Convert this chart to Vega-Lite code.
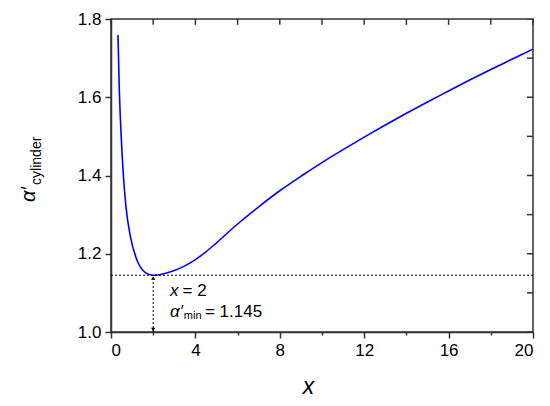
{
  "$schema": "https://vega.github.io/schema/vega-lite/v6.json",
  "width": 422,
  "height": 313,
  "autosize": "none",
  "padding": {"left": 111, "top": 19, "right": 17, "bottom": 74},
  "background": "white",
  "config": {
    "view": {"stroke": "#333333", "strokeWidth": 1.5},
    "font": "Liberation Sans",
    "axis": {
      "domainColor": "#333333",
      "domainWidth": 1.5,
      "tickColor": "#333333",
      "tickWidth": 1.5,
      "labelFont": "Liberation Sans",
      "labelFontSize": 17,
      "labelColor": "#000000",
      "labelPadding": 4,
      "grid": false
    }
  },
  "datasets": {
    "curve": [
      {"x": 0.33, "y": 1.759},
      {"x": 0.39, "y": 1.627},
      {"x": 0.47, "y": 1.516},
      {"x": 0.57, "y": 1.414},
      {"x": 0.71, "y": 1.320},
      {"x": 0.92, "y": 1.244},
      {"x": 1.23, "y": 1.184},
      {"x": 1.63, "y": 1.152},
      {"x": 2.0, "y": 1.145},
      {"x": 2.5, "y": 1.149},
      {"x": 3.0, "y": 1.157},
      {"x": 3.5, "y": 1.169},
      {"x": 4.0, "y": 1.185},
      {"x": 4.5, "y": 1.205},
      {"x": 5.0, "y": 1.228},
      {"x": 6.0, "y": 1.276},
      {"x": 7.0, "y": 1.320},
      {"x": 8.0, "y": 1.361},
      {"x": 9.0, "y": 1.398},
      {"x": 10.0, "y": 1.433},
      {"x": 11.0, "y": 1.466},
      {"x": 12.0, "y": 1.498},
      {"x": 13.0, "y": 1.529},
      {"x": 14.0, "y": 1.559},
      {"x": 15.0, "y": 1.588},
      {"x": 16.0, "y": 1.616},
      {"x": 17.0, "y": 1.644},
      {"x": 18.0, "y": 1.671},
      {"x": 19.0, "y": 1.697},
      {"x": 20.0, "y": 1.723}
    ],
    "topTicks": [
      {"v": 0}, {"v": 2}, {"v": 4}, {"v": 6}, {"v": 8}, {"v": 10},
      {"v": 12}, {"v": 14}, {"v": 16}, {"v": 18}, {"v": 20}
    ],
    "rightTicks": [
      {"v": 1.0}, {"v": 1.1}, {"v": 1.2}, {"v": 1.3}, {"v": 1.4},
      {"v": 1.5}, {"v": 1.6}, {"v": 1.7}, {"v": 1.8}
    ],
    "hline": [{"y": 1.145, "x0": 0, "x1": 20}],
    "vline": [{"x": 2, "y0": 1.0, "y1": 1.145}],
    "arrowUp": [{"x": 2, "y": 1.138}],
    "arrowDown": [{"x": 2, "y": 1.0064}],
    "italicAnno": [
      {"x": 2.8, "y": 1.092, "t": "x"},
      {"x": 2.8, "y": 1.038, "t": "α′"}
    ],
    "plainAnno": [
      {"x": 3.39, "y": 1.092, "t": "= 2"},
      {"x": 4.45, "y": 1.038, "t": "= 1.145"}
    ],
    "subAnno": [{"x": 3.45, "y": 1.032, "t": "min"}],
    "yTitleMain": [{"x": -3.6, "y": 1.332, "t": "α′"}],
    "yTitleSub": [{"x": -3.3, "y": 1.376, "t": "cylinder"}]
  },
  "layer": [
    {
      "data": {"name": "curve"},
      "mark": {"type": "line", "color": "#0000ff", "strokeWidth": 1.6, "interpolate": "monotone"},
      "encoding": {
        "x": {
          "field": "x", "type": "quantitative",
          "scale": {"domain": [0, 20], "nice": false, "zero": false},
          "axis": {
            "orient": "bottom",
            "values": [0, 2, 4, 6, 8, 10, 12, 14, 16, 18, 20],
            "labelExpr": "datum.value % 4 === 0 ? datum.label : ''",
            "tickSize": {"condition": {"test": "datum.value % 4 === 0", "value": 6}, "value": 3},
            "title": "x",
            "titleFont": "Liberation Sans",
            "titleFontStyle": "italic",
            "titleFontWeight": "normal",
            "titleFontSize": 23,
            "titleColor": "#000000",
            "titleX": 197,
            "titleY": 61,
            "titleAlign": "center",
            "titleBaseline": "alphabetic"
          }
        },
        "y": {
          "field": "y", "type": "quantitative",
          "scale": {"domain": [1.0, 1.8], "nice": false, "zero": false},
          "axis": {
            "orient": "left",
            "values": [1.0, 1.1, 1.2, 1.3, 1.4, 1.5, 1.6, 1.7, 1.8],
            "labelExpr": "round(datum.value * 10) % 2 === 0 ? format(datum.value, '.1f') : ''",
            "tickSize": {"condition": {"test": "round(datum.value * 10) % 2 === 0", "value": 6}, "value": 3},
            "title": null
          }
        }
      }
    },
    {
      "data": {"name": "topTicks"},
      "mark": {"type": "rule", "color": "#333333", "strokeWidth": 1.5},
      "encoding": {
        "x": {"field": "v", "type": "quantitative"},
        "y": {"datum": 1.8, "type": "quantitative"},
        "y2": {"datum": 1.785}
      }
    },
    {
      "data": {"name": "rightTicks"},
      "mark": {"type": "tick", "orient": "horizontal", "color": "#333333", "size": 12, "thickness": 1.5, "opacity": 1, "clip": true},
      "encoding": {
        "x": {"datum": 20, "type": "quantitative"},
        "y": {"field": "v", "type": "quantitative"}
      }
    },
    {
      "data": {"name": "hline"},
      "mark": {"type": "rule", "color": "#000000", "strokeWidth": 1, "strokeDash": [2, 2]},
      "encoding": {
        "x": {"field": "x0", "type": "quantitative"},
        "x2": {"field": "x1"},
        "y": {"field": "y", "type": "quantitative"}
      }
    },
    {
      "data": {"name": "vline"},
      "mark": {"type": "rule", "color": "#000000", "strokeWidth": 1, "strokeDash": [2, 2]},
      "encoding": {
        "x": {"field": "x", "type": "quantitative"},
        "y": {"field": "y0", "type": "quantitative"},
        "y2": {"field": "y1"}
      }
    },
    {
      "data": {"name": "arrowUp"},
      "mark": {"type": "point", "shape": "triangle-up", "filled": true, "color": "#000000", "size": 18, "opacity": 1},
      "encoding": {
        "x": {"field": "x", "type": "quantitative"},
        "y": {"field": "y", "type": "quantitative"}
      }
    },
    {
      "data": {"name": "arrowDown"},
      "mark": {"type": "point", "shape": "triangle-down", "filled": true, "color": "#000000", "size": 18, "opacity": 1},
      "encoding": {
        "x": {"field": "x", "type": "quantitative"},
        "y": {"field": "y", "type": "quantitative"}
      }
    },
    {
      "data": {"name": "italicAnno"},
      "mark": {"type": "text", "font": "Liberation Sans", "fontStyle": "italic", "fontSize": 17, "align": "left", "baseline": "alphabetic", "color": "#000000"},
      "encoding": {
        "x": {"field": "x", "type": "quantitative"},
        "y": {"field": "y", "type": "quantitative"},
        "text": {"field": "t"}
      }
    },
    {
      "data": {"name": "plainAnno"},
      "mark": {"type": "text", "font": "Liberation Sans", "fontSize": 17, "align": "left", "baseline": "alphabetic", "color": "#000000"},
      "encoding": {
        "x": {"field": "x", "type": "quantitative"},
        "y": {"field": "y", "type": "quantitative"},
        "text": {"field": "t"}
      }
    },
    {
      "data": {"name": "subAnno"},
      "mark": {"type": "text", "font": "Liberation Sans", "fontSize": 11, "align": "left", "baseline": "alphabetic", "color": "#000000"},
      "encoding": {
        "x": {"field": "x", "type": "quantitative"},
        "y": {"field": "y", "type": "quantitative"},
        "text": {"field": "t"}
      }
    },
    {
      "data": {"name": "yTitleMain"},
      "mark": {"type": "text", "font": "Liberation Sans", "fontStyle": "italic", "fontSize": 20, "angle": 270, "align": "left", "baseline": "alphabetic", "color": "#000000"},
      "encoding": {
        "x": {"field": "x", "type": "quantitative"},
        "y": {"field": "y", "type": "quantitative"},
        "text": {"field": "t"}
      }
    },
    {
      "data": {"name": "yTitleSub"},
      "mark": {"type": "text", "font": "Liberation Sans", "fontSize": 14, "angle": 270, "align": "left", "baseline": "alphabetic", "color": "#000000"},
      "encoding": {
        "x": {"field": "x", "type": "quantitative"},
        "y": {"field": "y", "type": "quantitative"},
        "text": {"field": "t"}
      }
    }
  ]
}
